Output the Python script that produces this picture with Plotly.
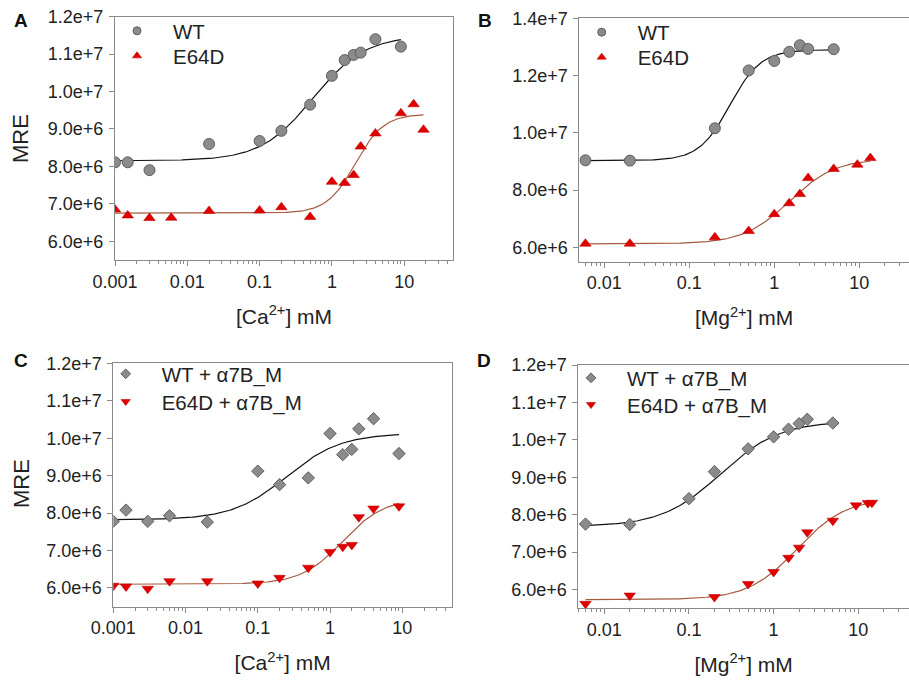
import numpy as np
import plotly.graph_objects as go

# ---------------- data ----------------
# A: Ca2+ titration
a_wt_x = [0.001, 0.0015, 0.003, 0.02, 0.1, 0.2, 0.5, 1, 1.5, 2, 2.5, 4, 9]
a_wt_y = [8.11e6, 8.11e6, 7.90e6, 8.60e6, 8.68e6, 8.95e6, 9.65e6, 1.042e7,
          1.084e7, 1.098e7, 1.104e7, 1.140e7, 1.120e7]
a_mut_x = [0.001, 0.0015, 0.003, 0.006, 0.02, 0.1, 0.2, 0.5, 1, 1.5, 2, 2.5,
           4, 9, 13.5, 18.5]
a_mut_y = [6.85e6, 6.69e6, 6.62e6, 6.63e6, 6.81e6, 6.82e6, 6.91e6, 6.65e6,
           7.59e6, 7.56e6, 7.77e6, 8.53e6, 8.88e6, 9.42e6, 9.66e6, 8.98e6]

# B: Mg2+ titration
b_wt_x = [0.006, 0.02, 0.2, 0.5, 1, 1.5, 2, 2.5, 5]
b_wt_y = [9.04e6, 9.03e6, 1.016e7, 1.218e7, 1.251e7, 1.283e7, 1.306e7,
          1.293e7, 1.292e7]
b_mut_x = [0.006, 0.02, 0.2, 0.5, 1, 1.5, 2, 2.5, 5, 9.5, 13.5]
b_mut_y = [6.13e6, 6.13e6, 6.35e6, 6.57e6, 7.16e6, 7.54e6, 7.86e6, 8.42e6,
           8.74e6, 8.89e6, 9.12e6]

# C: Ca2+ titration with a7B_M
c_wt_x = [0.001, 0.0015, 0.003, 0.006, 0.02, 0.1, 0.2, 0.5, 1, 1.5, 2, 2.5, 4, 9]
c_wt_y = [7.78e6, 8.08e6, 7.78e6, 7.93e6, 7.76e6, 9.12e6, 8.76e6, 8.94e6,
          1.0125e7, 9.56e6, 9.70e6, 1.025e7, 1.052e7, 9.59e6]
c_mut_x = [0.001, 0.0015, 0.003, 0.006, 0.02, 0.1, 0.2, 0.5, 1, 1.5, 2, 2.5, 4, 9]
c_mut_y = [6.06e6, 6.04e6, 5.98e6, 6.18e6, 6.18e6, 6.12e6, 6.27e6, 6.54e6,
           6.96e6, 7.10e6, 7.15e6, 7.89e6, 8.12e6, 8.18e6]

# D: Mg2+ titration with a7B_M
d_wt_x = [0.006, 0.02, 0.1, 0.2, 0.5, 1, 1.5, 2, 2.5, 5]
d_wt_y = [7.75e6, 7.74e6, 8.43e6, 9.15e6, 9.76e6, 1.008e7, 1.0285e7,
          1.0435e7, 1.055e7, 1.045e7]
d_mut_x = [0.006, 0.02, 0.2, 0.5, 1, 1.5, 2, 2.5, 5, 9.4, 13, 14.5]
d_mut_y = [5.62e6, 5.84e6, 5.80e6, 6.15e6, 6.47e6, 6.85e6, 7.12e6, 7.53e6,
           7.84e6, 8.25e6, 8.31e6, 8.32e6]

# Hill fit parameters: bottom, top, EC50 (mM), Hill coefficient, fit x-span
a_wt_fit = [8.15e6, 1.15e7, 0.55, 1.2, 0.001, 9]
a_mut_fit = [6.75e6, 9.40e6, 2.1, 2.2, 0.001, 18.5]
b_wt_fit = [9.03e6, 1.29e7, 0.30, 2.4, 0.006, 5]
b_mut_fit = [6.12e6, 9.10e6, 1.5, 1.6, 0.006, 13.5]
c_wt_fit = [7.82e6, 1.013e7, 0.25, 1.15, 0.001, 9]
c_mut_fit = [6.10e6, 8.40e6, 1.5, 1.5, 0.001, 9]
d_wt_fit = [7.68e6, 1.05e7, 0.236, 1.25, 0.006, 5]
d_mut_fit = [5.73e6, 8.45e6, 1.9, 1.5, 0.006, 14.5]

x_ticks = [0.001, 0.01, 0.1, 1, 10]
x_ticktext = ["0.001", "0.01", "0.1", "1", "10"]
y_ticks_1 = [6e6, 7e6, 8e6, 9e6, 1e7, 1.1e7, 1.2e7]
y_ticktext_1 = ["6.0e+6", "7.0e+6", "8.0e+6", "9.0e+6", "1.0e+7", "1.1e+7", "1.2e+7"]
y_ticks_2 = [6e6, 8e6, 1e7, 1.2e7, 1.4e7]
y_ticktext_2 = ["6.0e+6", "8.0e+6", "1.0e+7", "1.2e+7", "1.4e+7"]

# ---------------- styling ----------------
FONT = "Liberation Sans, Arial, sans-serif"
GREY_FILL = "#8b8b8b"
GREY_EDGE = "#5e5e5e"
RED_FILL = "#e00000"
RED_EDGE = "#c00000"
WT_LINE = "#111111"
MUT_LINE = "#a65a40"
AXIS = "#8a8a8a"
TEXT = "#222222"
W, H = 909, 680


def hill(params):
    bottom, top, ec50, n, x0, x1 = params
    x = np.logspace(np.log10(x0), np.log10(x1), 200)
    y = bottom + (top - bottom) * x ** n / (ec50 ** n + x ** n)
    return x, y


fig = go.Figure()

# each legend row gets its own legend box: (key x, key y) in pixels
panels = [
    dict(ax="", wt=(a_wt_x, a_wt_y), mut=(a_mut_x, a_mut_y), fits=(a_wt_fit, a_mut_fit),
         sym=("circle", "triangle-up"), names=("WT", "E64D"),
         legends=(("legend", 137, 32), ("legend2", 137, 57))),
    dict(ax="2", wt=(b_wt_x, b_wt_y), mut=(b_mut_x, b_mut_y), fits=(b_wt_fit, b_mut_fit),
         sym=("circle", "triangle-up"), names=("WT", "E64D"),
         legends=(("legend3", 601.7, 33.3), ("legend4", 601.7, 58.3))),
    dict(ax="3", wt=(c_wt_x, c_wt_y), mut=(c_mut_x, c_mut_y), fits=(c_wt_fit, c_mut_fit),
         sym=("diamond", "triangle-down"), names=("WT + α7B_M", "E64D + α7B_M"),
         legends=(("legend5", 125.7, 375), ("legend6", 125.7, 402.7))),
    dict(ax="4", wt=(d_wt_x, d_wt_y), mut=(d_mut_x, d_mut_y), fits=(d_wt_fit, d_mut_fit),
         sym=("diamond", "triangle-down"), names=("WT + α7B_M", "E64D + α7B_M"),
         legends=(("legend7", 591, 379), ("legend8", 591, 405.7))),
]

for p in panels:
    xa, ya = "x" + p["ax"], "y" + p["ax"]
    # fitted curves
    for fit, col in zip(p["fits"], (WT_LINE, MUT_LINE)):
        fx, fy = hill(fit)
        fig.add_trace(go.Scatter(x=fx, y=fy, mode="lines", xaxis=xa, yaxis=ya,
                                 line=dict(color=col, width=1.2), showlegend=False,
                                 hoverinfo="skip"))
    # measured points
    wsym, msym = p["sym"]
    wsize = 11 if wsym == "circle" else 9.5
    fig.add_trace(go.Scatter(x=p["wt"][0], y=p["wt"][1], mode="markers", xaxis=xa, yaxis=ya,
                             marker=dict(symbol=wsym, size=wsize, color=GREY_FILL,
                                         line=dict(color=GREY_EDGE, width=1)),
                             showlegend=False, name=p["names"][0]))
    fig.add_trace(go.Scatter(x=p["mut"][0], y=p["mut"][1], mode="markers", xaxis=xa, yaxis=ya,
                             marker=dict(symbol=msym, size=10, color=RED_FILL,
                                         line=dict(color=RED_EDGE, width=0.6)),
                             showlegend=False, name=p["names"][1]))
    # smaller legend keys
    fig.add_trace(go.Scatter(x=[None], y=[None], mode="markers", xaxis=xa, yaxis=ya,
                             marker=dict(symbol=wsym, size=8 if wsym == "circle" else 7.5,
                                         color=GREY_FILL, line=dict(color=GREY_EDGE, width=1)),
                             name=p["names"][0], legend=p["legends"][0][0]))
    fig.add_trace(go.Scatter(x=[None], y=[None], mode="markers", xaxis=xa, yaxis=ya,
                             marker=dict(symbol=msym, size=8, color=RED_FILL,
                                         line=dict(color=RED_EDGE, width=0.6)),
                             name=p["names"][1], legend=p["legends"][1][0]))

minor_vals = [m * 10.0 ** e for e in range(-4, 2) for m in range(2, 10)]


def xaxis(domain, rng, anchor, title):
    return dict(type="log", domain=domain, range=rng, anchor=anchor, automargin=False,
                showline=True, linecolor=AXIS, linewidth=1, mirror=True,
                showgrid=False, zeroline=False,
                tickmode="array", tickvals=x_ticks, ticktext=x_ticktext,
                ticks="outside", ticklen=5, tickcolor=AXIS, tickwidth=1,
                minor=dict(tickmode="array", tickvals=minor_vals, ticks="outside",
                           ticklen=3, tickcolor=AXIS, tickwidth=1, showgrid=False),
                tickfont=dict(family=FONT, size=18, color=TEXT),
                title=dict(text=title, font=dict(family=FONT, size=21, color=TEXT),
                           standoff=18))


def yaxis(domain, rng, anchor, vals, text, mirror):
    return dict(domain=domain, range=rng, anchor=anchor, automargin=False,
                showline=True, linecolor=AXIS, linewidth=1, mirror=mirror,
                showgrid=False, zeroline=False,
                tickmode="array", tickvals=vals, ticktext=text,
                ticks="outside", ticklen=5, tickcolor=AXIS, tickwidth=1,
                ticklabelstandoff=2,
                tickfont=dict(family=FONT, size=18, color=TEXT))


ca_title = "[Ca<sup>2+</sup>] mM"
mg_title = "[Mg<sup>2+</sup>] mM"

leg_common = dict(font=dict(family=FONT, size=20.5, color=TEXT), bgcolor="rgba(0,0,0,0)",
                  borderwidth=0, itemwidth=62, xanchor="left", yanchor="top")

legend_layout = {}
for p in panels:
    for name, kx, ky in p["legends"]:
        legend_layout[name] = dict(x=(kx - 36) / W, y=1 - (ky - 21) / H, **leg_common)

fig.update_layout(
    width=W, height=H, autosize=False,
    margin=dict(l=0, r=0, t=0, b=0),
    paper_bgcolor="white", plot_bgcolor="white",
    font=dict(family=FONT, color=TEXT),
    xaxis=xaxis([115 / W, 453 / W], [-3, 1.675], "y", ca_title),
    yaxis=yaxis([1 - 260 / H, 1 - 16.7 / H], [5.5e6, 1.2e7], "x",
                y_ticks_1, y_ticktext_1, True),
    xaxis2=xaxis([579.3 / W, 1.0], [np.log10(0.00508), 1.585], "y2", mg_title),
    yaxis2=yaxis([1 - 261.7 / H, 1 - 18.3 / H], [5.5e6, 1.4e7], "x2",
                 y_ticks_2, y_ticktext_2, False),
    xaxis3=xaxis([113.3 / W, 452 / W], [-3, 1.688], "y3", ca_title),
    yaxis3=yaxis([1 - 606.7 / H, 1 - 363.3 / H], [5.5e6, 1.2e7], "x3",
                 y_ticks_1, y_ticktext_1, True),
    xaxis4=xaxis([578.3 / W, 1.0], [-2.307, 1.599], "y4", mg_title),
    yaxis4=yaxis([1 - 608.3 / H, 1 - 365 / H], [5.5e6, 1.2e7], "x4",
                 y_ticks_1, y_ticktext_1, False),
    showlegend=True,
    **legend_layout,
)

# y-axis titles for the left column
for py in (139, 484):
    fig.add_annotation(text="MRE", x=21 / W, y=1 - py / H, xref="paper", yref="paper",
                       xanchor="center", yanchor="middle", textangle=-90, showarrow=False,
                       font=dict(family=FONT, size=22, color=TEXT))

# panel letters
for letter, px, py in [("A", 21, 20), ("B", 485, 20), ("C", 21, 360), ("D", 484, 360)]:
    fig.add_annotation(text="<b>%s</b>" % letter, x=px / W, y=1 - py / H,
                       xref="paper", yref="paper", xanchor="center", yanchor="middle",
                       showarrow=False, font=dict(family=FONT, size=19, color="#111"))

fig.write_html("out.html")
